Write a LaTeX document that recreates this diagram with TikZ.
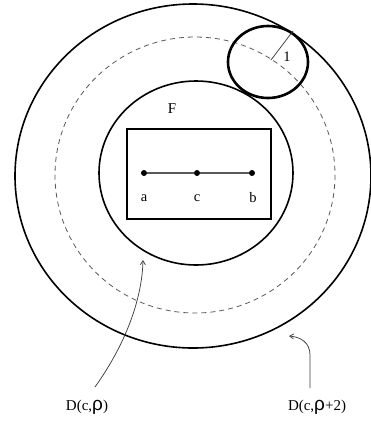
\documentclass[tikz,border=0pt]{standalone}
\usepackage{fontspec}
\setmainfont{Liberation Serif}
\newfontfamily\rhofont{Liberation Sans}
\usetikzlibrary{arrows.meta}
\tikzset{
  bigcirc/.style={draw=black, line width=1.6pt},
  smallcirc/.style={draw=black, line width=2.6pt},
  dashcirc/.style={draw=black!65, line width=0.8pt, dash pattern=on 5pt off 4pt},
  segline/.style={draw=black!65, line width=1.1pt},
  dotpt/.style={circle, fill=black, inner sep=0pt, minimum size=6pt},
  ptlabel/.style={font=\fontsize{14.5}{16}\selectfont, inner sep=0pt},
  dlabel/.style={font=\fontsize{15}{17}\selectfont, inner sep=0pt},
  pointer/.style={draw=black!75, line width=0.75pt, -{Straight Barb[length=4pt,width=5pt]}}
}
\newcommand{\myrho}{{\rhofont\fontsize{19}{19}\selectfont ρ}}
\begin{document}
\begin{tikzpicture}[x=1pt,y=-1pt]
\useasboundingbox (0,0) rectangle (371,421);
% circles
\draw[bigcirc] (193,176) ellipse [x radius=178, y radius=172];
\draw[dashcirc] (195,175) ellipse [x radius=140, y radius=138];
\draw[bigcirc] (196,173) ellipse [x radius=97, y radius=92];
\draw[smallcirc] (268,62) ellipse [x radius=40, y radius=36];
% radius 1
\coordinate (rc) at (271,60);
\coordinate (rt) at (293,31);
\draw[black!75, line width=0.75pt] (rc) -- (rt);
\node[ptlabel] (one) at (287,57) {1};
% rectangle F
\node[draw=black, line width=1.6pt, minimum width=144pt, minimum height=90pt, inner sep=0pt] (F) at (199,174) {};
\node[dlabel] (Flab) at (172,109) {F};
% points
\node[dotpt] (a) at (144,173) {};
\node[dotpt] (c) at (197,173) {};
\node[dotpt] (b) at (252,173) {};
\draw[segline] (a) -- (c) -- (b);
\node[ptlabel] (la) at (144,198) {a};
\node[ptlabel] (lc) at (197,198) {c};
\node[ptlabel] (lb) at (253,198) {b};
% labels
\node[dlabel, anchor=base] (D1) at (87,410) {D(c,\myrho)};
\node[dlabel, anchor=base] (D2) at (317,410) {D(c,\myrho+2)};
\coordinate (t1) at (143,260);
\coordinate (t2) at (289,336);
\draw[pointer] (95,387) .. controls (125,345) and (142,300) .. (t1);
\draw[pointer] (310,388) -- (310,355) .. controls (310,342) and (300,337) .. (t2);
\end{tikzpicture}
\end{document}
